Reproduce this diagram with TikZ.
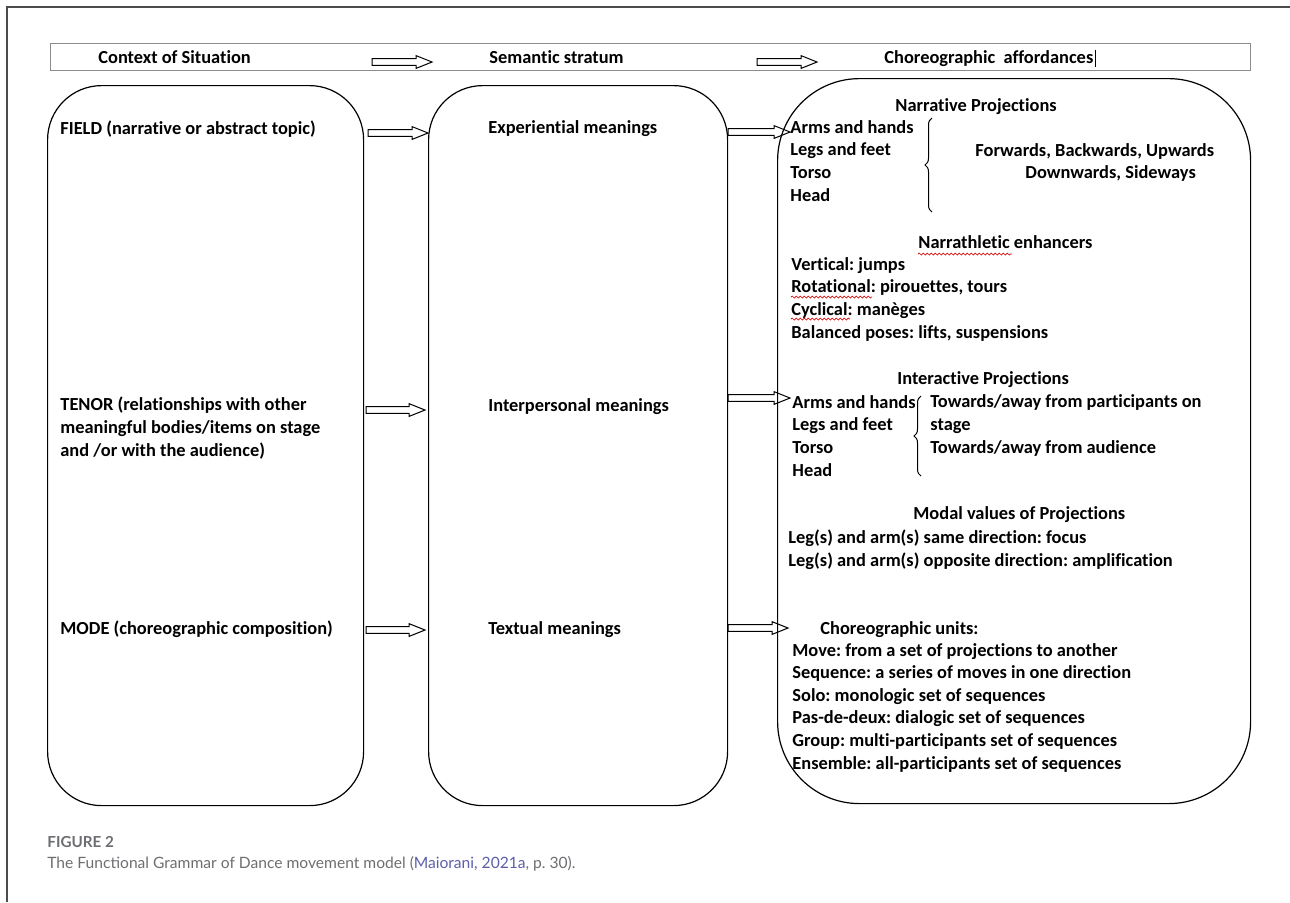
\documentclass[tikz,border=0pt]{standalone}
\usepackage{fontspec}
\setmainfont{Carlito}[Ligatures=NoCommon]
\newfontfamily\capfont{Lato}
\usetikzlibrary{calc, decorations.pathreplacing, decorations.pathmorphing}
\definecolor{capgray}{HTML}{6D6E71}
\definecolor{linkblue}{HTML}{5C5FA8}
\frenchspacing

\begin{document}
\begin{tikzpicture}[x=0.5pt, y=-0.5pt,
    lbl/.style={anchor=base west, inner sep=0pt, align=left,
      font=\fontsize{9.2}{11.3}\selectfont\bfseries},
    box/.style={draw, line width=0.6pt, anchor=north west, inner sep=0pt},
    harrow/.style={line width=0.5pt, to path={let \p1=(\tikztostart), \p2=(\tikztotarget) in
      (\x1,\y1+1.7pt) -- (\x2-8pt,\y1+1.7pt) -- (\x2-8pt,\y1+3.2pt) -- (\x2,\y1)
      -- (\x2-8pt,\y1-3.2pt) -- (\x2-8pt,\y1-1.7pt) -- (\x1,\y1-1.7pt) -- cycle}},
    curly/.style={decorate, decoration={brace, amplitude=3.5pt}, line width=0.5pt},
    squig/.style={red!85!black, line width=0.35pt, decorate,
      decoration={snake, amplitude=0.5pt, segment length=2pt}},
    capt/.style={anchor=base west, inner sep=0pt, text=capgray}]
    \useasboundingbox (0,0) rectangle (1290,902);
    % page frame
    \draw[black!70, line width=0.6pt] (7,902) -- (7,7) -- (1290,7);

    % header bar
    \node[box, draw=black!45, minimum width=600pt, minimum height=13.5pt] (bar) at (50,43) {};
    \node[lbl] (ctx) at (98,63) {Context of Situation};
    \node[lbl] (sem) at (489,63) {Semantic stratum};
    \node[lbl] (aff) at (884,63) {Choreographic\ \ affordances};
    \draw[line width=0.5pt] ([xshift=1pt]aff.north east) -- ([xshift=1pt]aff.south east);
    \coordinate (h1) at (372,62);
    \coordinate (h2) at (432,62);
    \coordinate (h3) at (757,62);
    \coordinate (h4) at (817,62);
    \draw[harrow] (h1) to (h2);
    \draw[harrow] (h3) to (h4);

    % the three columns
    \node[box, minimum width=158pt, minimum height=360pt, rounded corners=27pt] (lbox) at (47,85) {};
    \node[box, minimum width=149.5pt, minimum height=360pt, rounded corners=27pt] (mbox) at (428,85) {};
    \node[box, minimum width=236.5pt, minimum height=362.5pt, rounded corners=41pt] (rbox) at (777,78) {};

    % context of situation (multi-line nodes sit on their last baseline)
    \node[lbl] (field) at (60,134) {FIELD (narrative or abstract topic)};
    \node[lbl] (tenor) at (60,456) {TENOR (relationships with other\\meaningful bodies/items on stage\\and /or with the audience)};
    \node[lbl] (mode) at (60,634) {MODE (choreographic composition)};

    % semantic stratum
    \node[lbl] (exper) at (488,133) {Experiential meanings};
    \node[lbl] (inter) at (488,411) {Interpersonal meanings};
    \node[lbl] (textual) at (488,634) {Textual meanings};

    % choreographic affordances
    \node[lbl] (nproj) at (895,111) {Narrative Projections};
    \node[lbl] (nbody) at (790,201) {Arms and hands\\Legs and feet\\Torso\\Head};
    \node[lbl] (ndir) at (975,156) {Forwards, Backwards, Upwards};
    \node[lbl] (ndir2) at (1025,178) {Downwards, Sideways};
    \draw[curly] (932,212) -- (932,118);

    \node[lbl] (nath) at (918,248) {Narrathletic enhancers};
    \node[lbl] (nenh) at (791,338) {Vertical: jumps\\Rotational: pirouettes, tours\\Cyclical: manèges\\Balanced poses: lifts, suspensions};
    \draw[squig] (918,254) -- (1012,254);
    \draw[squig] (791,297) -- (872,297);
    \draw[squig] (791,319) -- (850,319);

    \node[lbl] (iproj) at (897,384) {Interactive Projections};
    \node[lbl] (ibody) at (792,476) {Arms and hands\\Legs and feet\\Torso\\Head};
    \node[lbl] (idir) at (930,453) {Towards/away from participants on\\stage\\Towards/away from audience};
    \draw[curly] (921,476) -- (921,396);

    \node[lbl] (modal) at (913,519) {Modal values of Projections};
    \node[lbl] (mval) at (788,566) {Leg(s) and arm(s) same direction: focus\\Leg(s) and arm(s) opposite direction: amplification};

    \node[lbl] (cunit) at (820,634) {Choreographic units:};
    \node[lbl] (clist) at (792,769) {Move: from a set of projections to another\\Sequence: a series of moves in one direction\\Solo: monologic set of sequences\\Pas-de-deux: dialogic set of sequences\\Group: multi-participants set of sequences\\Ensemble: all-participants set of sequences};

    % arrows between the columns
    \coordinate (yf) at (0,133);
    \coordinate (yt) at (0,410);
    \coordinate (ym) at (0,630);
    \coordinate (rf) at (0,132);
    \coordinate (rt) at (0,398);
    \coordinate (rm) at (0,628);
    \draw[harrow] ($(lbox.east |- yf)+(4,0)$) to (mbox.west |- yf);
    \draw[harrow] ($(lbox.east |- yt)+(2,0)$) to ($(mbox.west |- yt)+(-3,0)$);
    \draw[harrow] ($(lbox.east |- ym)+(2,0)$) to ($(mbox.west |- ym)+(-3,0)$);
    \draw[harrow] (mbox.east |- rf) to ($(rbox.west |- rf)+(13,0)$);
    \draw[harrow] (mbox.east |- rt) to ($(rbox.west |- rt)+(13,0)$);
    \draw[harrow] (mbox.east |- rm) to ($(rbox.west |- rm)+(11,0)$);

    % caption
    \node[capt, font=\capfont\fontsize{7.6}{9}\selectfont\bfseries] (fig) at (47,847) {FIGURE 2};
    \node[capt, font=\capfont\fontsize{7.8}{9}\selectfont] (cap) at (47,868) {The Functional Grammar of Dance movement model (\textcolor{linkblue}{Maiorani, 2021a}, p.~30).};
\end{tikzpicture}
\end{document}
